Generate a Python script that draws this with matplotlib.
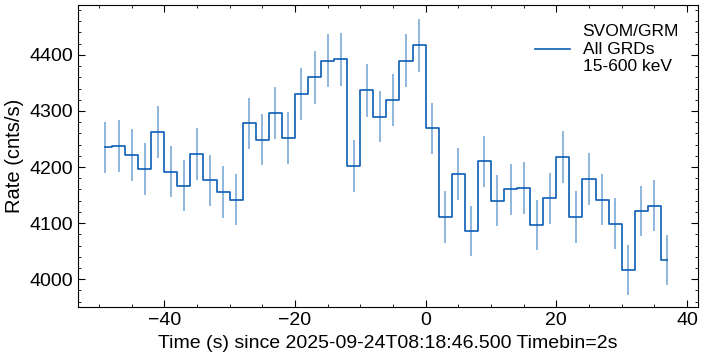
import numpy as np
import matplotlib.pyplot as plt
from matplotlib.ticker import MultipleLocator

plt.rcParams.update({
    "font.family": ["Liberation Sans", "DejaVu Sans"],
    "font.size": 12,
    "xtick.direction": "in",
    "ytick.direction": "in",
    "xtick.top": True,
    "ytick.right": True,
    "axes.linewidth": 0.8,
})

# bin centres (s), 2 s bins
t = np.arange(-49, 38, 2)
rate = [4235, 4237, 4221, 4196, 4262, 4192, 4167, 4223, 4176, 4155, 4142,
        4278, 4249, 4296, 4252, 4330, 4360, 4390, 4392, 4202, 4337, 4290,
        4320, 4390, 4417, 4269, 4111, 4188, 4086, 4210, 4140, 4160, 4163,
        4097, 4144, 4218, 4111, 4179, 4142, 4099, 4016, 4122, 4131, 4034]
err = [46, 46, 46, 46, 46, 46, 46, 46, 46, 46, 46,
       46, 46, 46, 46, 46, 47, 47, 47, 46, 47, 46,
       46, 47, 47, 46, 46, 46, 45, 46, 46, 46, 46,
       45, 46, 46, 46, 46, 46, 45, 45, 45, 45, 45]

fig, ax = plt.subplots(figsize=(7.03, 3.58), dpi=100)
fig.subplots_adjust(left=0.111, right=0.993, top=0.986, bottom=0.142)

ax.errorbar(t, rate, yerr=err, fmt='none', ecolor='#5b93cc', elinewidth=1.2,
            alpha=0.8)
ax.step(t, rate, where='mid', color='#0a5db5', lw=1.2,
        label='SVOM/GRM\nAll GRDs\n15-600 keV')

ax.set_xlim(-53.2, 41.7)
ax.set_ylim(3950, 4489)
ax.xaxis.set_major_locator(MultipleLocator(20))
ax.xaxis.set_minor_locator(MultipleLocator(5))
ax.yaxis.set_major_locator(MultipleLocator(100))
ax.yaxis.set_minor_locator(MultipleLocator(20))
ax.tick_params(which='major', length=5, labelsize=14)
ax.tick_params(which='minor', length=2.5)

ax.set_xlabel('Time (s) since 2025-09-24T08:18:46.500 Timebin=2s', fontsize=14,
              labelpad=4)
ax.set_ylabel('Rate (cnts/s)', fontsize=14.5, labelpad=4)
ax.legend(loc='upper right', frameon=False, fontsize=12.5, handlelength=2,
          handletextpad=0.75, borderaxespad=0.7)

fig.savefig('out.png', dpi=100)
